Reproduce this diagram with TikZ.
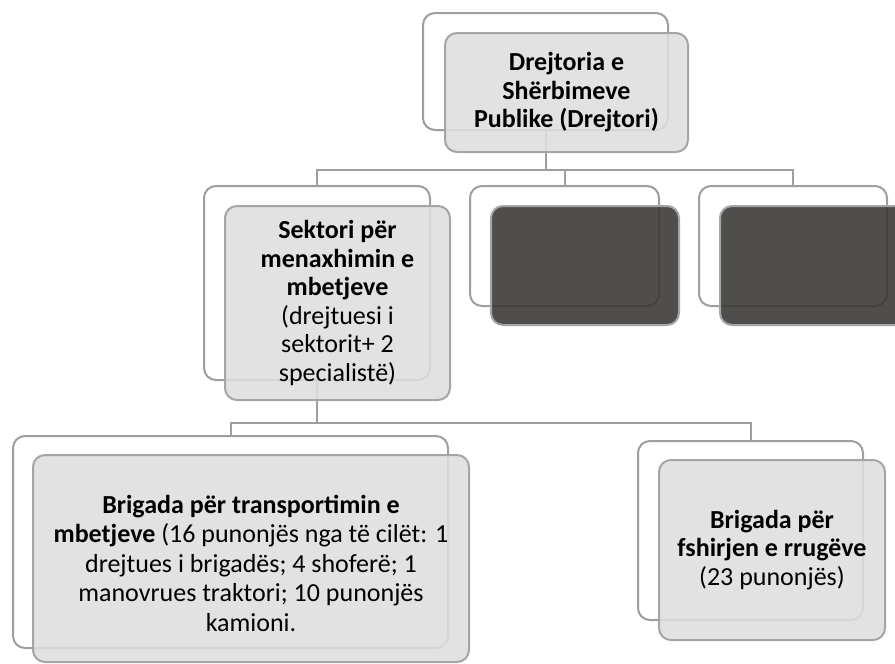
\documentclass[tikz,border=0pt]{standalone}
\usepackage{fontspec}
\setmainfont{Carlito}
\definecolor{framegray}{RGB}{158,158,158}
\definecolor{frontborder}{RGB}{165,165,165}
\definecolor{lightfill}{RGB}{222,222,222}
\definecolor{darkfill}{RGB}{56,54,52}
\newcommand\boxfont{\fontsize{26pt}{28.5pt}\selectfont}
\newcommand\trfont{\fontsize{26pt}{29.5pt}\selectfont}
\tikzset{
  backbox/.style={draw=framegray, line width=2pt, fill=white, rounded corners=12pt, inner sep=0pt},
  frontbox/.style={draw=frontborder, line width=2pt, fill=lightfill, fill opacity=0.88, text opacity=1, rounded corners=12pt, inner sep=0pt, align=center, font=\boxfont},
  darkbox/.style={draw=frontborder, line width=2pt, fill=darkfill, fill opacity=0.88, rounded corners=12pt, inner sep=0pt},
  conn/.style={draw=framegray, line width=2pt}
}
\begin{document}
\begin{tikzpicture}[x=1pt,y=-1pt]
\useasboundingbox (0,0) rectangle (895,664);
\clip (0,0) rectangle (895,664);
\coordinate (bus1) at (0,170);
\coordinate (bus2) at (0,423);
% back frames
\node[backbox, minimum width=245, minimum height=117] (topB) at (545.5,71.5) {};
\node[backbox, minimum width=226, minimum height=194] (sekB) at (317,283) {};
\node[backbox, minimum width=189, minimum height=120] (dkaB) at (564.5,246) {};
\node[backbox, minimum width=188, minimum height=120] (dkbB) at (793,246) {};
\node[backbox, minimum width=435, minimum height=212] (trB) at (230.5,542) {};
\node[backbox, minimum width=225, minimum height=179] (fsB) at (750.5,530.5) {};
% connectors
\draw[conn] (topB.south) -- (topB.south |- bus1);
\draw[conn] (sekB.north) |- (dkbB.north |- bus1) -- (dkbB.north);
\draw[conn] (dkaB.north |- bus1) -- (dkaB.north);
\draw[conn] (sekB.south) -- (sekB.south |- bus2);
\draw[conn] (trB.north) |- (fsB.north |- bus2) -- (fsB.north);
% front boxes
\node[frontbox, minimum width=243, minimum height=119] (top) at (566.5,92.5)
  {\textbf{Drejtoria e}\\\textbf{Shërbimeve}\\\textbf{Publike (Drejtori)}};
\node[frontbox, minimum width=225, minimum height=194] (sek) at (337.5,303)
  {\textbf{Sektori për}\\\textbf{menaxhimin e}\\\textbf{mbetjeve}\\(drejtuesi i\\sektorit+ 2\\specialistë)};
\node[darkbox, minimum width=188, minimum height=119] (dka) at (585,265.5) {};
\node[darkbox, minimum width=188, minimum height=119] (dkb) at (814,265.5) {};
\node[frontbox, minimum width=436, minimum height=207] (tr) at (251,558.5) {};
\node[align=center, font=\trfont, inner sep=0pt] (trtext) at (251,563)
  {\textbf{Brigada për transportimin e}\\\textbf{mbetjeve} (16 punonjës nga të cilët: 1\\drejtues i brigadës; 4 shoferë; 1\\manovrues traktori; 10 punonjës\\kamioni.};
\node[frontbox, minimum width=226, minimum height=180] (fs) at (772,550)
  {\textbf{Brigada për}\\\textbf{fshirjen e rrugëve}\\(23 punonjës)};
\end{tikzpicture}
\end{document}
